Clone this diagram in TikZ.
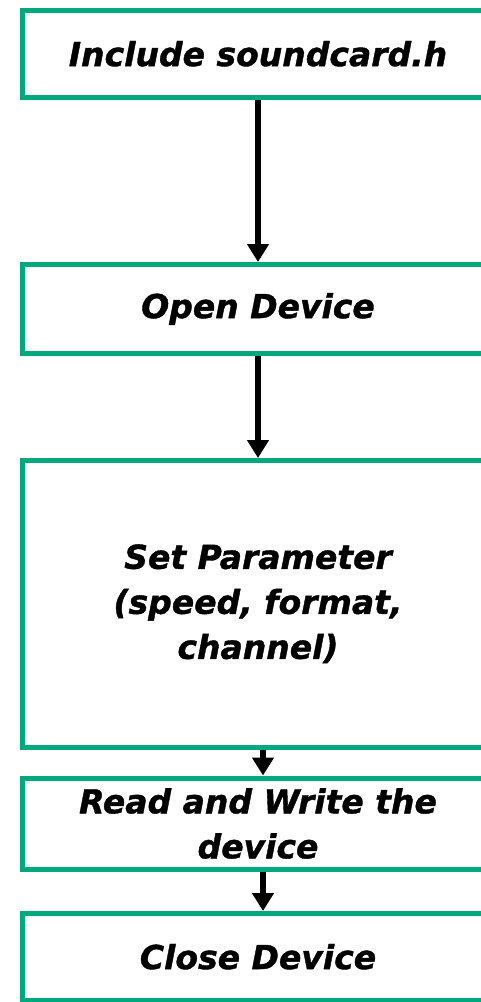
\documentclass[tikz,border=0pt]{standalone}
\usepackage{fontspec}
\setmainfont{DejaVu Sans}[BoldItalicFeatures={FakeBold=1.2}]
\usetikzlibrary{positioning, arrows.meta}

\definecolor{boxgreen}{RGB}{0,168,125}

\tikzset{
    stepbox/.style={draw=boxgreen, line width=5pt, rectangle,
        minimum width=472pt, align=center, inner sep=0pt,
        font=\fontsize{33}{45}\selectfont\bfseries\itshape},
    flow/.style={draw=black, line width=6.5pt,
        -{Triangle[length=18pt,width=21pt]}}
}

\begin{document}
\begin{tikzpicture}
\useasboundingbox (0pt,0pt) rectangle (480pt,-1002pt);

\node[stepbox, minimum height=87.5pt] (inc) at (258pt,-53.75pt)
    {Include soundcard.h};
\node[stepbox, minimum height=89pt, below=162pt of inc] (open)
    {Open Device};
\node[stepbox, minimum height=286.5pt, below=102pt of open] (param)
    {Set Parameter\\(speed, format,\\channel)};
\node[stepbox, minimum height=91pt, below=26pt of param] (rw)
    {Read and Write the\\device};
\node[stepbox, minimum height=86.5pt, below=39.5pt of rw] (close)
    {Close Device};

\draw[flow] (inc) -- (open);
\draw[flow] (open) -- (param);
\draw[flow] ([xshift=5pt]param.south) -- ([xshift=5pt]rw.north);
\draw[flow] ([xshift=5pt]rw.south) -- ([xshift=5pt]close.north);
\end{tikzpicture}
\end{document}
